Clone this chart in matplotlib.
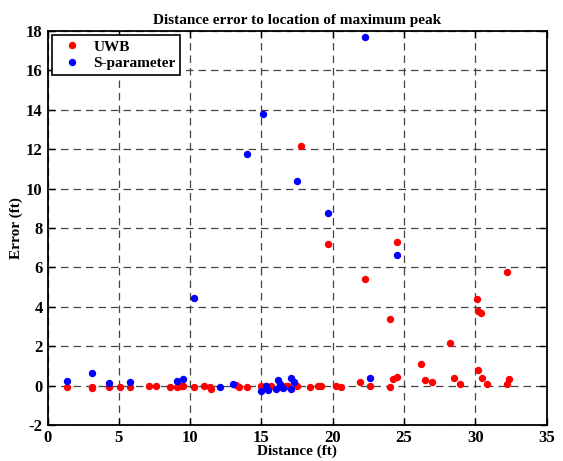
import matplotlib
matplotlib.use("Agg")
import matplotlib.pyplot as plt

plt.rcParams['font.family'] = ['Liberation Serif', 'DejaVu Serif']
plt.rcParams['font.weight'] = 'bold'
plt.rcParams['axes.unicode_minus'] = False

# UWB peak-location error vs distance
uwb_dist = [1.4, 3.1, 3.1, 4.3, 5.1, 5.8, 7.1, 7.6, 8.6, 9.1, 9.2, 9.4, 9.5,
            10.3, 11.0, 11.4, 11.5, 13.2, 13.4, 14.0, 15.0, 15.1, 15.3, 15.4,
            15.7, 16.3, 16.4, 16.7, 16.9, 17.5, 17.8, 18.4, 19.0, 19.2, 19.7,
            20.2, 20.6, 21.9, 22.3, 22.6, 24.0, 24.0, 24.2, 24.5, 24.5, 26.2,
            26.5, 27.0, 28.2, 28.5, 28.9, 30.1, 30.2, 30.2, 30.4, 30.5, 30.8,
            32.2, 32.2, 32.4]
uwb_err = [-0.04, -0.04, -0.10, -0.05, -0.08, -0.08, -0.02, -0.02, -0.08, -0.04,
           -0.01, -0.02, -0.01, -0.08, -0.03, -0.08, -0.18, 0.02, -0.04, -0.04,
           -0.01, -0.13, 0.0, -0.08, -0.03, -0.04, -0.02, -0.01, -0.01, -0.01,
           12.18, -0.04, -0.01, -0.01, 7.19, 0.0, -0.08, 0.21, 5.42, -0.03,
           3.40, -0.08, 0.34, 0.45, 7.29, 1.09, 0.31, 0.19, 2.19, 0.38,
           0.09, 4.40, 3.79, 0.80, 3.71, 0.38, 0.09, 5.75, 0.09, 0.34]

# S-parameter peak-location error vs distance
sp_dist = [1.4, 3.1, 4.3, 5.8, 9.1, 9.5, 10.3, 12.1, 13.0, 14.0, 15.0, 15.1,
           15.35, 15.5, 16.0, 16.2, 16.3, 16.5, 17.1, 17.3, 17.1, 17.5, 19.65,
           22.3, 22.6, 24.5]
sp_err = [0.24, 0.67, 0.14, 0.17, 0.22, 0.36, 4.47, -0.04, 0.09, 11.74, -0.27,
          13.80, -0.02, -0.21, -0.18, 0.29, 0.07, -0.13, 0.40, 0.20, -0.15,
          10.39, 8.78, 17.67, 0.40, 6.62]

fig = plt.figure(figsize=(5.63, 4.61), dpi=100)
ax = fig.add_axes([0.0844, 0.0776, 0.8863, 0.8558])

ax.plot(uwb_dist, uwb_err, 'o', color='#ff0000', mec='#ff0000', ms=4.3, label='UWB')
ax.plot(sp_dist, sp_err, 'o', color='#0000ff', mec='#0000ff', ms=4.3, label='S-parameter')

ax.set_xlim(0, 35)
ax.set_ylim(-2, 18)
ax.set_xticks(range(0, 36, 5))
ax.set_yticks(range(-2, 19, 2))
ax.grid(True, color='#444444', linestyle=(0, (6, 4)), linewidth=0.9)
ax.tick_params(direction='in', top=True, right=True, labelsize=12, length=5, width=1)
for s in ax.spines.values():
    s.set_linewidth(1.3)

ax.set_title('Distance error to location of maximum peak', fontsize=11, fontweight='bold', pad=5)
ax.set_xlabel('Distance (ft)', fontsize=11, fontweight='bold', labelpad=-1)
ax.set_ylabel('Error (ft)', fontsize=11, fontweight='bold', labelpad=2)

leg = ax.legend(loc='upper left', fontsize=11, fancybox=False, framealpha=1,
                edgecolor='black', borderaxespad=0.3, handletextpad=0.4,
                borderpad=0.3, labelspacing=0.2, markerscale=1.0)
leg.get_frame().set_linewidth(1.2)

fig.savefig('out.png', dpi=100)
